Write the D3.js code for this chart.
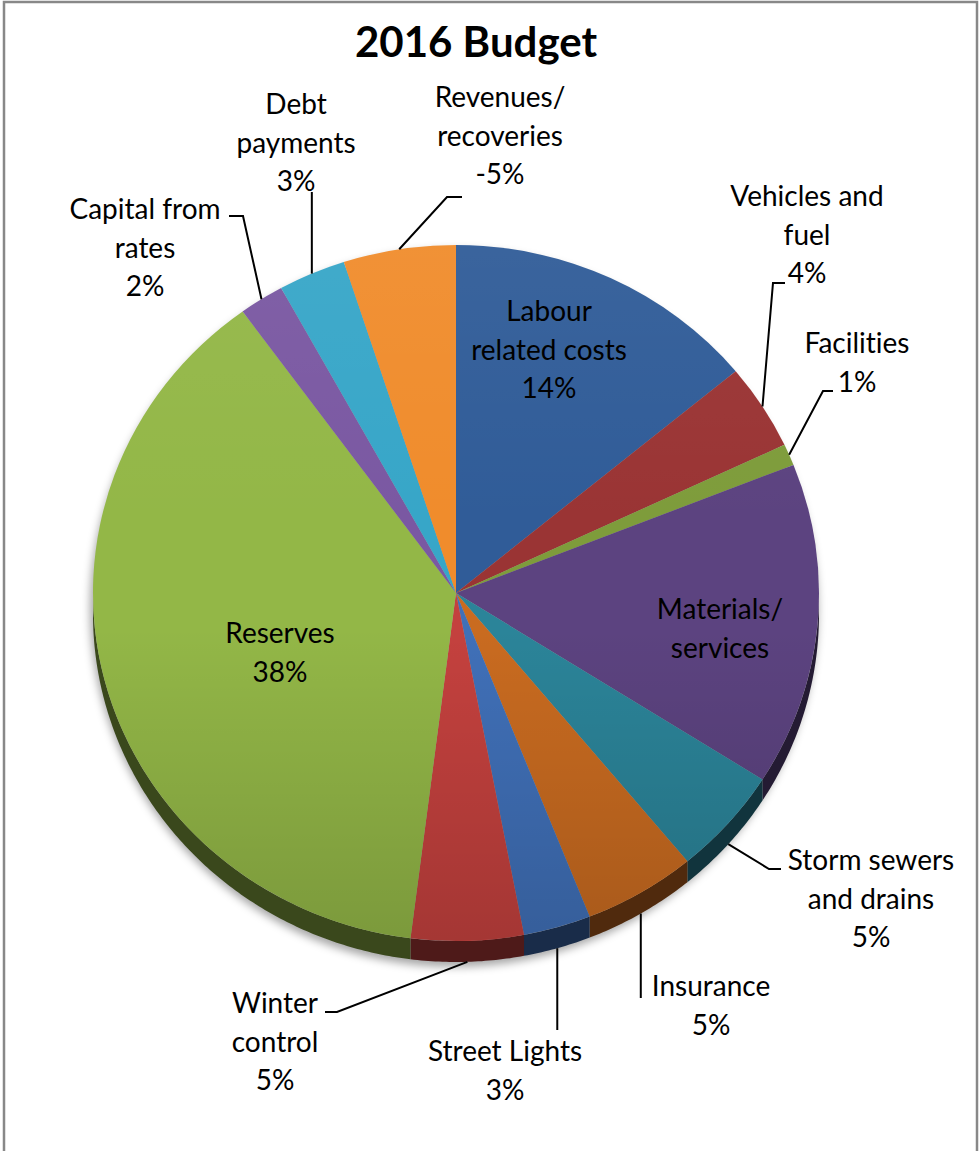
<!DOCTYPE html>
<html>
<head>
<meta charset="utf-8">
<script src="https://cdn.jsdelivr.net/npm/d3@7"></script>
<style>
  html, body { margin: 0; padding: 0; background: #ffffff; }
  svg { display: block; }
  text {
    font-family: Lato, "Open Sans", "Noto Sans", sans-serif; fill: #000;
    font-variant-ligatures: none; font-feature-settings: "liga" 0, "clig" 0;
  }
</style>
</head>
<body>
<svg id="chart" width="979" height="1151"></svg>
<script>
// ---- data ----
const categories = [
  "Labour related costs", "Vehicles and fuel", "Facilities", "Materials/ services",
  "Storm sewers and drains", "Insurance", "Street Lights", "Winter control",
  "Reserves", "Capital from rates", "Debt payments", "Revenues/ recoveries"
];
const values = [14, 4, 1, 15, 5, 5, 3, 5, 38, 2, 3, -5];
const labelLines = [
  ["Labour", "related costs"], ["Vehicles and", "fuel"], ["Facilities"], ["Materials/", "services"],
  ["Storm sewers", "and drains"], ["Insurance"], ["Street Lights"], ["Winter", "control"],
  ["Reserves"], ["Capital from", "rates"], ["Debt", "payments"], ["Revenues/", "recoveries"]
];
const percentHidden = ["Materials/ services"];
const sliceColors = [
  "#305c98", "#9a3434", "#7e9c3b", "#5c4380",
  "#2b8499", "#c96b20", "#4070b8", "#c4413e",
  "#93b747", "#7a58a2", "#37a6c8", "#f08c2c"
];
const title = "2016 Budget";

// ---- layout ----
const W = 979, H = 1151;
const cx = 456, cy = 593, rx = 363, ry = 348, depth = 21;
const lineGap = 38.5;
const labelFont = 28;
// label anchor (centre x, first line centre y) and leader geometry per slice;
// an elbow x of null means the leader drops straight down from the rim
const labelPos = [
  [549, 311], [807, 196], [857, 343], [720, 609],
  [871, 860], [711, 986], [505, 1051], [275, 1003],
  [280, 633], [145, 209], [296, 104], [500, 97]
];
const leaders = [
  null, {elbow: [773, 283], end: 785}, {elbow: [823, 391], end: 833}, null,
  {elbow: [769, 869], end: 781}, {elbow: [null, 998], end: null}, {elbow: [null, 1030], end: null}, {elbow: [337, 1012], end: 325},
  null, {elbow: [243, 216], end: 229}, {elbow: [null, 192], end: null}, {elbow: [447, 197], end: 462}
];

const data = categories.map((c, i) => ({
  category: c, value: values[i], lines: labelLines[i], color: sliceColors[i],
  pos: labelPos[i], leader: leaders[i]
}));

const svg = d3.select("#chart");
const defs = svg.append("defs");

// soft drop shadow under the disc
const blur = defs.append("filter").attr("id", "shadowBlur")
  .attr("x", "-10%").attr("y", "-10%").attr("width", "120%").attr("height", "120%");
blur.append("feGaussianBlur").attr("stdDeviation", 4);

// vertical lighting over the top face
const light = defs.append("linearGradient").attr("id", "topLight")
  .attr("x1", 0).attr("y1", 0).attr("x2", 0).attr("y2", 1);
light.append("stop").attr("offset", "0%").attr("stop-color", "#fff").attr("stop-opacity", 0.05);
light.append("stop").attr("offset", "40%").attr("stop-color", "#fff").attr("stop-opacity", 0);
light.append("stop").attr("offset", "55%").attr("stop-color", "#000").attr("stop-opacity", 0);
light.append("stop").attr("offset", "100%").attr("stop-color", "#000").attr("stop-opacity", 0.16);

// chart frame
svg.append("rect").attr("x", 4).attr("y", 2).attr("width", W - 6).attr("height", H + 20)
  .attr("fill", "#fff").attr("stroke", "#888").attr("stroke-width", 2.5);

// title
svg.append("text").attr("x", 476).attr("y", 57).attr("text-anchor", "middle")
  .style("font-size", "42px").style("font-weight", 700).text(title);

const pie = d3.pie().sort(null).value(d => Math.abs(d.value));
const arcs = pie(data);

// point on the elliptical rim for a pie angle (0 = 12 o'clock, clockwise)
const rim = (a, dy = 0) => [cx + rx * Math.sin(a), cy - ry * Math.cos(a) + dy];

// shadow
svg.append("ellipse").attr("cx", cx - 2).attr("cy", cy + depth / 2 + 5)
  .attr("rx", rx + 1).attr("ry", ry + depth / 2)
  .attr("fill", "rgba(0,0,0,0.35)").attr("filter", "url(#shadowBlur)");

// side walls (front half only)
const sides = svg.append("g");
arcs.forEach(a => {
  const lo = Math.max(a.startAngle, Math.PI / 2);
  const hi = Math.min(a.endAngle, 3 * Math.PI / 2);
  if (lo >= hi) return;
  const n = Math.max(4, Math.ceil((hi - lo) / 0.01));
  const pts = d3.range(n + 1).map(k => lo + (hi - lo) * k / n);
  const top = pts.map(t => rim(t));
  const bot = pts.slice().reverse().map(t => rim(t, depth));
  sides.append("path")
    .attr("d", d3.line()(top.concat(bot)) + "Z")
    .attr("fill", d3.color(a.data.color).darker(2.6));
});

// top face
const face = svg.append("g")
  .attr("transform", `translate(${cx},${cy}) scale(1,${ry / rx})`);
const arcGen = d3.arc().innerRadius(0).outerRadius(rx);
face.selectAll("path.slice").data(arcs).join("path")
  .attr("class", "slice")
  .attr("d", arcGen)
  .attr("fill", d => d.data.color);
face.append("circle").attr("r", rx).attr("fill", "url(#topLight)");

// leader lines
const total = d3.sum(values, v => Math.abs(v));
const leaderG = svg.append("g").attr("fill", "none").attr("stroke", "#000").attr("stroke-width", 2);
arcs.forEach(a => {
  const L = a.data.leader;
  if (!L) return;
  const mid = (a.startAngle + a.endAngle) / 2;
  const front = Math.cos(mid) < 0;
  const start = rim(mid, front ? depth : 0);
  const elbow = [L.elbow[0] === null ? start[0] : L.elbow[0], L.elbow[1]];
  const pts = [start, elbow];
  if (L.end !== null) pts.push([L.end, elbow[1]]);
  leaderG.append("path").attr("d", d3.line()(pts));
});

// labels
const fmt = d3.formatLocale({decimal: ".", thousands: ",", grouping: [3], currency: ["$", ""], minus: "-"}).format(".0%");
const labelG = svg.append("g").attr("text-anchor", "middle").style("font-size", labelFont + "px");
arcs.forEach(a => {
  const d = a.data;
  const lines = d.lines.slice();
  if (!percentHidden.includes(d.category)) lines.push(fmt(d.value / total));
  const t = labelG.append("text").attr("x", d.pos[0]).attr("y", d.pos[1] + 10);
  lines.forEach((s, i) => {
    t.append("tspan").attr("x", d.pos[0]).attr("dy", i === 0 ? 0 : lineGap).text(s);
  });
});
</script>
</body>
</html>
